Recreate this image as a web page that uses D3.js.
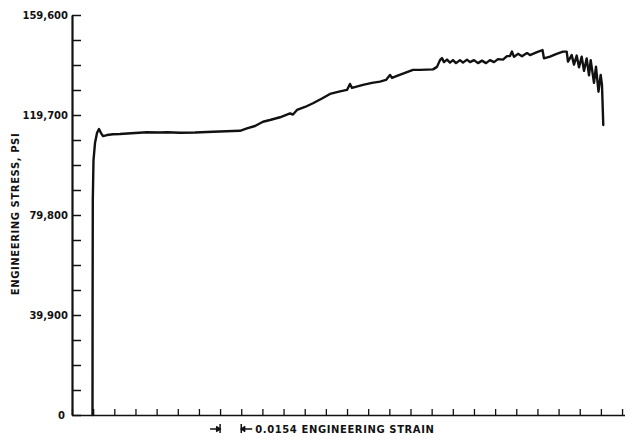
<!DOCTYPE html>
<html>
<head>
<meta charset="utf-8">
<script src="https://cdn.jsdelivr.net/npm/d3@7"></script>
<style>
  html, body { margin: 0; padding: 0; background: #fff; }
  svg { display: block; }
  text { font-family: "DejaVu Sans", "Liberation Sans", sans-serif; fill: #111; }
</style>
</head>
<body>
<svg id="chart" width="625" height="439"></svg>
<script>
// Engineering strain (unit: strain)
const strain = [
  0.01492, 0.01500, 0.01514, 0.01565, 0.01674, 0.01820, 0.01965, 0.02111, 0.02257, 0.02548,
  0.02985, 0.03494, 0.04586, 0.05459, 0.06406, 0.06915, 0.07862, 0.08953, 0.10263, 0.11719,
  0.12229, 0.12738, 0.13321, 0.13903, 0.14413, 0.15141, 0.15869, 0.16087, 0.16378, 0.16960,
  0.17543, 0.18198, 0.18780, 0.19508, 0.20018, 0.20236, 0.20382, 0.21182, 0.21837, 0.22420,
  0.22856, 0.23148, 0.23293, 0.23657, 0.24239, 0.24822, 0.25331, 0.26277, 0.26569, 0.26787,
  0.26933, 0.27078, 0.27297, 0.27515, 0.27733, 0.27952, 0.28243, 0.28461, 0.28752, 0.28971,
  0.29262, 0.29553, 0.29844, 0.30135, 0.30426, 0.30718, 0.31009, 0.31373, 0.31664, 0.31883,
  0.32028, 0.32174, 0.32465, 0.32756, 0.33120, 0.33338, 0.33848, 0.34248, 0.34357, 0.34794,
  0.35231, 0.35740, 0.36010, 0.36104, 0.36374, 0.36541, 0.36738, 0.36905, 0.37102, 0.37269,
  0.37466, 0.37633, 0.37757, 0.37997, 0.38142, 0.38324, 0.38484, 0.38579, 0.38674
];
// Engineering stress (psi)
const stress = [
  0, 45900, 85800, 101700, 108500, 112500, 114100, 112500, 111300, 111700,
  112000, 112100, 112500, 112800, 112700, 112800, 112600, 112700, 113000, 113300,
  113400, 114400, 115300, 117000, 117700, 118800, 120300, 119900, 121700, 122900,
  124400, 126300, 128100, 129100, 129700, 132100, 130500, 131700, 132500, 133000,
  133700, 135700, 134500, 135300, 136500, 137700, 137700, 137900, 138900, 141600,
  142400, 140800, 141800, 140600, 141600, 140400, 141600, 140600, 141800, 140800,
  141600, 140400, 141400, 140400, 141600, 140800, 142000, 141800, 143200, 143200,
  145000, 142900, 144100, 143100, 144400, 143600, 144800, 145600, 142300, 143000,
  144000, 145000, 145000, 141000, 143600, 139800, 143400, 138700, 143000, 137300,
  142300, 135500, 141600, 132500, 139000, 129000, 135700, 131700, 115700
];
const yTickValues = [0, 9975, 19950, 29925, 39900, 49875, 59850, 69825, 79800, 89775, 99750,
  109725, 119700, 129675, 139650, 149625, 159600];
const yLabelValues = [0, 39900, 79800, 119700, 159600];
const strainStep = 0.0154;
const xTickCount = 26;
const xTickValues = d3.range(0, xTickCount + 1).map(i => i * strainStep);
const yTitle = "ENGINEERING STRESS, PSI";
const xTitle = "0.0154 ENGINEERING STRAIN";

const svg = d3.select("#chart");
svg.append("rect").attr("width", 625).attr("height", 439).attr("fill", "#fff");

const x = d3.scaleLinear().domain([0, 0.404]).range([72, 627]);
const y = d3.scaleLinear().domain([0, 159600]).range([415, 15]);

// X axis
const xAxis = svg.append("g")
  .attr("transform", `translate(0,${y(0)})`)
  .call(d3.axisBottom(x).tickValues(xTickValues).tickSize(-6).tickSizeOuter(0).tickFormat(""));
xAxis.select(".domain").attr("stroke", "#111").attr("stroke-width", 1.6);
xAxis.selectAll(".tick line").attr("stroke", "#111").attr("stroke-width", 1.3);

// Y axis
const fmt = d3.format(",");
const yAxis = svg.append("g")
  .attr("transform", `translate(${x(0)},0)`)
  .call(d3.axisLeft(y).tickValues(yTickValues).tickSize(-9).tickSizeOuter(0).tickPadding(4)
    .tickFormat(d => yLabelValues.includes(d) ? fmt(d) : ""));
yAxis.select(".domain").attr("stroke", "#111").attr("stroke-width", 2.2);
yAxis.selectAll(".tick line").attr("stroke", "#111").attr("stroke-width", 1.5);
yAxis.selectAll(".tick text")
  .attr("font-size", 10)
  .attr("font-weight", "bold")
  .attr("font-family", "DejaVu Sans, sans-serif")
  .attr("fill", "#111");
yAxis.selectAll(".tick").filter(d => d === 0).select("text").attr("x", -7);

// Y title
svg.append("text")
  .attr("transform", `translate(18.5,214) rotate(-90)`)
  .attr("text-anchor", "middle")
  .attr("font-size", 10)
  .attr("font-weight", "bold")
  .attr("letter-spacing", 0.6)
  .text(yTitle);

// Strain scale marker
const mx0 = x(strainStep * 7), mx1 = x(strainStep * 8), my = 429;
const mk = svg.append("g").attr("stroke", "#111").attr("stroke-width", 1.5).attr("fill", "none");
mk.append("line").attr("x1", mx0 - 10).attr("x2", mx0).attr("y1", my).attr("y2", my);
mk.append("line").attr("x1", mx0).attr("x2", mx0).attr("y1", my - 5).attr("y2", my + 4);
mk.append("path").attr("d", `M${mx0 - 4},${my - 2.5} L${mx0},${my} L${mx0 - 4},${my + 2.5}`).attr("fill", "#111");
mk.append("line").attr("x1", mx1).attr("x2", mx1 + 11).attr("y1", my).attr("y2", my);
mk.append("line").attr("x1", mx1).attr("x2", mx1).attr("y1", my - 5).attr("y2", my + 4);
mk.append("path").attr("d", `M${mx1 + 4},${my - 2.5} L${mx1},${my} L${mx1 + 4},${my + 2.5}`).attr("fill", "#111");

svg.append("text")
  .attr("x", mx1 + 14)
  .attr("y", 433)
  .attr("font-size", 10)
  .attr("font-weight", "bold")
  .attr("letter-spacing", 0.6)
  .attr("xml:space", "preserve")
  .text(xTitle);

// Curve
const pts = strain.map((s, i) => [s, stress[i]]);
const line = d3.line().x(d => x(d[0])).y(d => y(d[1]));
svg.append("path")
  .datum(pts)
  .attr("d", line)
  .attr("fill", "none")
  .attr("stroke", "#111")
  .attr("stroke-width", 2.4)
  .attr("stroke-linejoin", "round")
  .attr("stroke-linecap", "round");
</script>
</body>
</html>
